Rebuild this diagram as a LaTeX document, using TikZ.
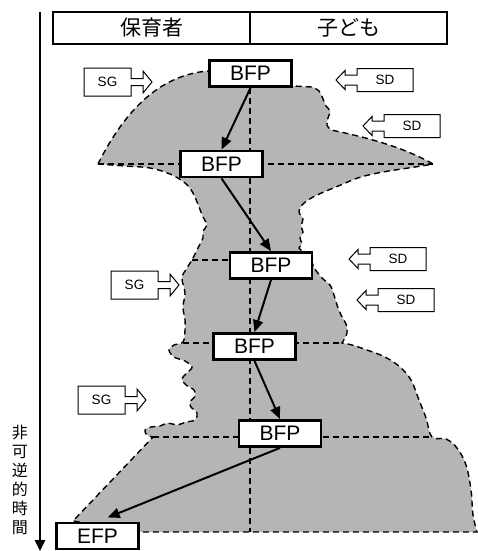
\documentclass[tikz,border=0pt]{standalone}
\usepackage{fontspec}
\setmainfont{Liberation Sans}
\newfontfamily\jpfont{Noto Sans CJK JP}
\usetikzlibrary{arrows.meta,calc}
\definecolor{blobgray}{RGB}{180,181,183}
\tikzset{
  bfp/.style={draw, line width=2.8pt, fill=white, minimum width=82pt, minimum height=26pt, inner sep=0pt, font=\fontsize{21}{21}\selectfont},
  hdr/.style={draw, line width=1.1pt, minimum width=197pt, minimum height=32pt, inner sep=0pt, font=\jpfont\fontsize{21}{21}\selectfont},
  flow/.style={line width=2pt, -{Triangle[length=12pt,width=10pt]}},
  dsh/.style={dash pattern=on 6pt off 4pt, line width=1.4pt},
  sgpic/.pic={
    \draw[line width=1pt, fill=white] (0,-14) -- (47,-14) -- (47,-3.5) -- (59,-3.5) -- (59,-11) -- (68,0) -- (59,11) -- (59,3.5) -- (47,3.5) -- (47,14) -- (0,14) -- cycle;
    \node[font=\fontsize{13.5}{13.5}\selectfont, inner sep=0pt] (-t) at (23.5,0) {SG};
  },
  sdpic/.pic={
    \draw[line width=1pt, fill=white] (0,-11.5) -- (56,-11.5) -- (56,11.5) -- (0,11.5) -- (0,5) -- (-12,5) -- (-12,9.5) -- (-21,0) -- (-12,-9.5) -- (-12,-5) -- (0,-5) -- cycle;
    \node[font=\fontsize{13.5}{13.5}\selectfont, inner sep=0pt] (-t) at (28,0) {SD};
  }
}
\begin{document}
\begin{tikzpicture}[x=1pt,y=-1pt]
\useasboundingbox (0,0) rectangle (478,551);

% header
\node[hdr] (h1) at (151.5,28) {保育者};
\node[hdr] (h2) at (348.5,28) {子ども};

% time axis
\coordinate (ttop) at (40,12);
\coordinate (tbot) at (40,551);
\draw[line width=2.4pt, -{Triangle[length=11pt,width=10pt]}] (ttop) -- (tbot);
\node[font=\jpfont\fontsize{16}{19}\selectfont, align=center, inner sep=0pt] (tlabel) at (20,480) {非\\可\\逆\\的\\時\\間};

% gray region
\draw[dsh, fill=blobgray]
 (98,164) .. controls (125,110) and (160,75) .. (208,71)
 -- (293,86) -- (312,87)
 -- plot[smooth, tension=0.6] coordinates {(312,87) (319,91) (323,99) (326,106) (330,111) (328,118) (327,125) (331,130)}
 .. controls (370,138) and (405,148) .. (433,164)
 .. controls (400,170) and (370,172) .. (350,181)
 .. controls (330,190) and (310,196) .. (302,205)
 -- plot[smooth, tension=0.6] coordinates {(302,205) (299,212) (303,219) (301,226) (303,232) (300,238) (302,244) (299,248) (304,252)}
 -- (312,262)
 -- plot[smooth, tension=0.6] coordinates {(314,268) (322,278) (330,285) (334,295) (337,305) (341,315) (346,324) (347,333) (342,343)}
 -- plot[smooth, tension=0.6] coordinates {(342,343) (352,345) (367,350) (385,357) (400,367) (411,380) (419,400) (426,418) (432,437) (446,439) (457,448) (466,465) (471,490) (473,515) (477,532)}
 -- (140,532) -- (73,521) -- (153,437)
 -- plot[smooth, tension=0.6] coordinates {(153,437) (147,435) (145,430) (151,427) (160,426) (168,423) (177,425) (186,422) (195,420) (197,413) (191,407) (190,402) (195,396) (194,390) (186,385) (182,379) (187,373) (192,367) (185,361) (174,357) (169,350) (174,345) (183,342) (185,330) (185,320) (183,307) (185,293) (182,278) (187,268) (192,260) (195,254) (199,246) (203,238) (203,231) (207,225) (203,217) (199,207) (193,193) (185,183) (170,174) (150,168) (125,166) (98,164)}
 -- cycle;

% inner dashed lines
\draw[dsh] (98,164) -- (433,164);
\draw[dsh] (192,260) -- (250,260);
\draw[dsh] (183,343) -- (342,343);
\draw[dsh] (153,437) -- (433,437);
\draw[dsh] (250,88) -- (250,532);

% boxes
\node[bfp] (b1) at (250.5,73.5) {BFP};
\node[bfp] (b2) at (221.5,164) {BFP};
\node[bfp] (b3) at (271,265.5) {BFP};
\node[bfp] (b4) at (254.5,346.5) {BFP};
\node[bfp] (b5) at (280,433.5) {BFP};
\node[bfp] (efp) at (97.5,536) {EFP};

% arrows
\draw[flow] (b1.south) -- (b2.north);
\draw[flow] (b2.south) -- (b3.north);
\draw[flow] (b3.south) -- (b4.north);
\draw[flow] (b4.south) -- (b5.north);
\draw[flow, shorten >=11pt] (b5.south) -- (efp.north);

% SG / SD
\pic (sg1) at (84,82) {sgpic};
\pic (sg2) at (111,285) {sgpic};
\pic (sg3) at (78,400) {sgpic};
\pic (sd1) at (357,80) {sdpic};
\pic (sd2) at (384,126) {sdpic};
\pic (sd3) at (370,259) {sdpic};
\pic (sd4) at (378,300) {sdpic};
\end{tikzpicture}
\end{document}
